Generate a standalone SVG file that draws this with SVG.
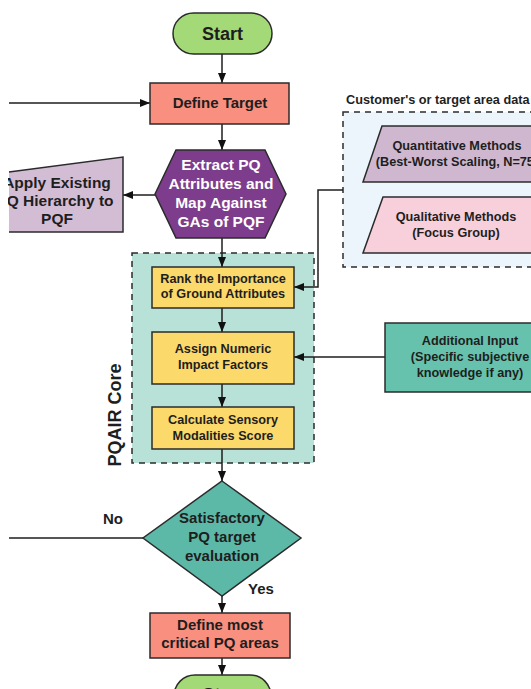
<svg xmlns="http://www.w3.org/2000/svg" width="531" height="689" viewBox="0 0 531 689">
<style>
  .n { stroke: #2b2b2b; stroke-width: 1.5; }
  .t { font-family: "Liberation Sans", Arial, sans-serif; font-weight: bold; fill: #1e1e1e; text-anchor: middle; }
  .s12 { font-size: 12.7px; }
  .s15 { font-size: 15px; }
  .c { fill: none; stroke: #1e1e1e; stroke-width: 1.5; }
  .dash { stroke: #2b2b2b; stroke-width: 1.5; stroke-dasharray: 6 5; }
</style>
<defs>
  <marker id="ah" markerUnits="userSpaceOnUse" markerWidth="10" markerHeight="10" viewBox="0 0 10 10" refX="10" refY="5" orient="auto">
    <path d="M0,1 L10,5 L0,9 Z" fill="#111"/>
  </marker>
  <clipPath id="clipL"><rect x="8" y="0" width="523" height="689"/></clipPath>
</defs>
<rect width="531" height="689" fill="#ffffff"/>

<g id="customer-data">
  <rect x="343" y="112" width="210" height="155" fill="#edf5fc" class="dash"/>
  <text class="t s12" x="346" y="104" style="text-anchor:start">Customer's or target area data</text>
</g>
<g id="pqair-core">
  <rect x="132" y="253" width="182" height="210" fill="#b8e1d7" class="dash"/>
  <text class="t" font-size="18" transform="translate(121,415) rotate(-90)">PQAIR Core</text>
</g>

<g id="connectors">
  <line class="c" x1="222" y1="54" x2="222" y2="83" marker-end="url(#ah)"/>
  <line class="c" x1="9" y1="103" x2="150" y2="103" marker-end="url(#ah)"/>
  <line class="c" x1="222" y1="124" x2="222" y2="150" marker-end="url(#ah)"/>
  <line class="c" x1="155" y1="195" x2="123" y2="195" marker-end="url(#ah)"/>
  <line class="c" x1="222" y1="238" x2="222" y2="267" marker-end="url(#ah)"/>
  <polyline class="c" points="343,190 318,190 318,287 294,287" marker-end="url(#ah)"/>
  <line class="c" x1="222" y1="308" x2="222" y2="332" marker-end="url(#ah)"/>
  <line class="c" x1="222" y1="384" x2="222" y2="407" marker-end="url(#ah)"/>
  <line class="c" x1="385" y1="357" x2="294" y2="357" marker-end="url(#ah)"/>
  <line class="c" x1="222" y1="449" x2="222" y2="481" marker-end="url(#ah)"/>
  <line class="c" x1="143" y1="538" x2="9" y2="538"/>
  <line class="c" x1="222" y1="596" x2="222" y2="613" marker-end="url(#ah)"/>
  <line class="c" x1="222" y1="658" x2="222" y2="675" marker-end="url(#ah)"/>
  <text class="t s15" x="113" y="524">No</text>
  <text class="t s15" x="261" y="594">Yes</text>
</g>

<g id="start">
  <rect x="173" y="13" width="99" height="41" rx="20.5" fill="#a3d977" class="n"/>
  <text class="t" font-size="18" x="222.5" y="40">Start</text>
</g>
<g id="define-target">
  <rect x="150" y="83" width="139" height="41" fill="#f98f7e" class="n"/>
  <text class="t s15" x="220" y="108">Define Target</text>
</g>
<g id="extract">
  <polygon points="155,194 176,150 265,150 286,194 265,238 176,238" fill="#7d3c8c" class="n"/>
  <text class="t" font-size="15.5" style="fill:#ffffff" x="221" y="170">Extract PQ</text>
  <text class="t" font-size="15.5" style="fill:#ffffff" x="221" y="189">Attributes and</text>
  <text class="t" font-size="15.5" style="fill:#ffffff" x="221" y="208">Map Against</text>
  <text class="t" font-size="15.5" style="fill:#ffffff" x="221" y="227">GAs of PQF</text>
</g>
<g id="apply-existing">
  <polygon points="9,172 123,157 123,232 9,232" fill="#d3bdd5"/>
  <polyline points="9,172 123,157 123,232 9,232" fill="none" class="n"/>
  <g clip-path="url(#clipL)">
    <text class="t" font-size="15.5" x="57" y="188">Apply Existing</text>
    <text class="t" font-size="15.5" x="55" y="206">PQ Hierarchy to</text>
    <text class="t" font-size="15.5" x="57" y="224">PQF</text>
  </g>
</g>
<g id="quantitative">
  <polygon points="382,126 562,126 543,182 363,182" fill="#cfb8cf" class="n"/>
  <text class="t s12" x="457" y="150">Quantitative Methods</text>
  <text class="t s12" x="457" y="166">(Best-Worst Scaling, N=75)</text>
</g>
<g id="qualitative">
  <polygon points="383,197 562,197 543,253 363,253" fill="#f7d0dc" class="n"/>
  <text class="t s12" x="456" y="221">Qualitative Methods</text>
  <text class="t s12" x="456" y="237">(Focus Group)</text>
</g>
<g id="rank">
  <rect x="152" y="267" width="142" height="41" fill="#fcd96b" class="n"/>
  <text class="t s12" x="223" y="283">Rank the Importance</text>
  <text class="t s12" x="223" y="298">of Ground Attributes</text>
</g>
<g id="assign">
  <rect x="152" y="332" width="142" height="52" fill="#fcd96b" class="n"/>
  <text class="t s12" x="223" y="353">Assign Numeric</text>
  <text class="t s12" x="223" y="369">Impact Factors</text>
</g>
<g id="calculate">
  <rect x="152" y="407" width="142" height="42" fill="#fcd96b" class="n"/>
  <text class="t s12" x="223" y="424">Calculate Sensory</text>
  <text class="t s12" x="223" y="440">Modalities Score</text>
</g>
<g id="additional-input">
  <rect x="385" y="323" width="170" height="69" fill="#67c2ad" class="n"/>
  <text class="t s12" x="470" y="345">Additional Input</text>
  <text class="t s12" x="470" y="361">(Specific subjective</text>
  <text class="t s12" x="470" y="377">knowledge if any)</text>
</g>
<g id="evaluation">
  <polygon points="222,481 301,538 222,596 143,538" fill="#5db9a7" class="n"/>
  <text class="t s15" x="222" y="523">Satisfactory</text>
  <text class="t s15" x="222" y="542">PQ target</text>
  <text class="t s15" x="222" y="561">evaluation</text>
</g>
<g id="define-critical">
  <rect x="150" y="613" width="140" height="45" fill="#f98f7e" class="n"/>
  <text class="t s15" x="220" y="630">Define most</text>
  <text class="t s15" x="220" y="648">critical PQ areas</text>
</g>
<g id="stop">
  <rect x="174" y="675" width="97" height="42" rx="21" fill="#a3d977" class="n"/>
  <text class="t" font-size="18" x="222.5" y="701">Stop</text>
</g>
</svg>
